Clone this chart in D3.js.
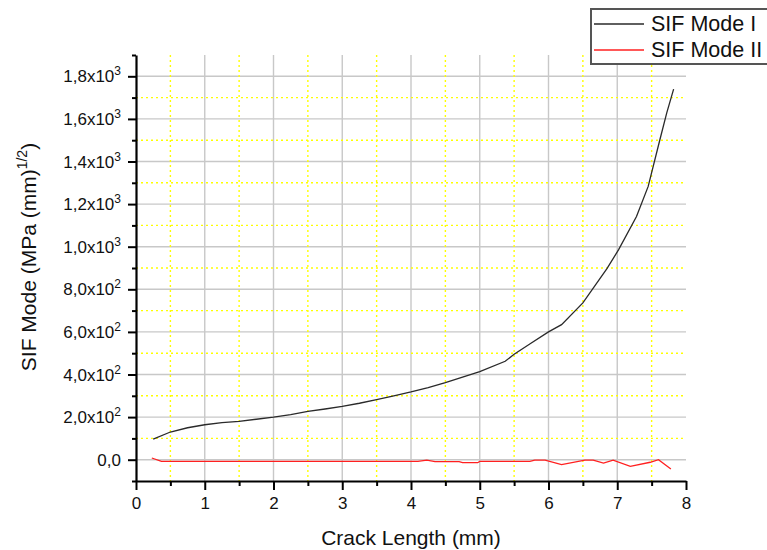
<!DOCTYPE html>
<html>
<head>
<meta charset="utf-8">
<script src="https://cdn.jsdelivr.net/npm/d3@7"></script>
<style>
  body { margin: 0; background: #fff; }
  svg { display: block; font-family: "Liberation Sans", Arial, sans-serif; }
</style>
</head>
<body>
<svg id="chart" width="767" height="550"></svg>
<script>
// crack length (mm) vs SIF
const modeIx = [0.25, 0.5, 0.75, 1.0, 1.25, 1.5, 1.75, 2.0, 2.25, 2.5, 2.75, 3.0, 3.25, 3.5,
  3.75, 4.0, 4.25, 4.5, 4.75, 5.0, 5.37, 5.5, 5.75, 6.0, 6.19, 6.5, 6.85, 7.02, 7.28,
  7.45, 7.62, 7.72, 7.82];
const modeIy = [97, 130, 150, 164, 174, 180, 190, 200, 212, 227, 238, 250, 265, 282,
  300, 318, 338, 362, 388, 414, 462, 495, 548, 600, 634, 736, 897, 986, 1142,
  1283, 1502, 1628, 1740];

const modeIIx = [0.23, 0.37, 4.1, 4.23, 4.35, 4.7, 4.75, 4.97, 5.0, 5.73, 5.8, 5.95, 6.19,
  6.53, 6.65, 6.8, 6.94, 7.19, 7.48, 7.6, 7.78];
const modeIIy = [8, -8, -8, -2, -9, -9, -14, -14, -8, -8, -2, -2, -23,
  -2, -2, -16, -2, -31, -12, 0, -44];

const xTicks = [0, 1, 2, 3, 4, 5, 6, 7, 8];
const xMinor = [0.5, 1.5, 2.5, 3.5, 4.5, 5.5, 6.5, 7.5];
const yTicks = [0, 200, 400, 600, 800, 1000, 1200, 1400, 1600, 1800];
const yTickBase = ["0,0", "2,0x10", "4,0x10", "6,0x10", "8,0x10", "1,0x10", "1,2x10", "1,4x10", "1,6x10", "1,8x10"];
const yTickExp = ["", "2", "2", "2", "2", "3", "3", "3", "3", "3"];
const yMinor = [-100, 100, 300, 500, 700, 900, 1100, 1300, 1500, 1700, 1900];

const legendNames = ["SIF Mode I", "SIF Mode II"];
const legendColors = ["#2a2a2a", "#ff2020"];

/* Set up */
const svg = d3.select("#chart");
const plotLeft = 136, plotRight = 686, plotTop = 55, plotBottom = 481;

const x = d3.scaleLinear().domain([0, 8]).range([plotLeft, plotRight]);
const y = d3.scaleLinear().domain([-100, 1900]).range([plotBottom, plotTop]);

// grid: gray major, yellow dotted minor
const grid = svg.append("g");
grid.selectAll(".gx").data(xTicks.slice(1, -1)).join("line")
  .attr("x1", d => x(d)).attr("x2", d => x(d)).attr("y1", plotTop).attr("y2", plotBottom)
  .attr("stroke", "#c8c8c8").attr("stroke-width", 1.4);
grid.selectAll(".gy").data(yTicks).join("line")
  .attr("x1", plotLeft).attr("x2", plotRight).attr("y1", d => y(d)).attr("y2", d => y(d))
  .attr("stroke", "#c8c8c8").attr("stroke-width", 1.4);
grid.selectAll(".mx").data(xMinor).join("line")
  .attr("x1", d => x(d)).attr("x2", d => x(d)).attr("y1", plotTop).attr("y2", plotBottom)
  .attr("stroke", "#ffff00").attr("stroke-width", 1.4).attr("stroke-dasharray", "2,3");
grid.selectAll(".my").data(yMinor.slice(1, -1)).join("line")
  .attr("x1", plotLeft).attr("x2", plotRight).attr("y1", d => y(d)).attr("y2", d => y(d))
  .attr("stroke", "#ffff00").attr("stroke-width", 1.4).attr("stroke-dasharray", "2,3");

// lines
const line = d3.line().x(d => x(d[0])).y(d => y(d[1]));
svg.append("path").datum(d3.zip(modeIx, modeIy))
  .attr("d", line).attr("fill", "none").attr("stroke", legendColors[0]).attr("stroke-width", 1.3);
svg.append("path").datum(d3.zip(modeIIx, modeIIy))
  .attr("d", line).attr("fill", "none").attr("stroke", legendColors[1]).attr("stroke-width", 1.3);

// x axis
const xAxis = svg.append("g").attr("transform", `translate(0,${plotBottom})`);
xAxis.call(d3.axisBottom(x).tickValues(xTicks).tickSize(9).tickSizeOuter(0).tickFormat(d3.format("d")));
xAxis.append("g").call(d3.axisBottom(x).tickValues(xMinor).tickSize(5).tickSizeOuter(0).tickFormat(""))
  .select(".domain").remove();
xAxis.selectAll("line").attr("stroke", "#000").attr("stroke-width", 2);
xAxis.select(".domain").attr("stroke", "#000").attr("stroke-width", 2.2);
xAxis.selectAll("text").attr("font-size", 17).attr("fill", "#111").attr("dy", null).attr("y", 28);

// y axis
const yAxis = svg.append("g").attr("transform", `translate(${plotLeft},0)`);
yAxis.call(d3.axisLeft(y).tickValues(yTicks).tickSize(8).tickSizeOuter(0).tickFormat(""));
yAxis.append("g").call(d3.axisLeft(y).tickValues(yMinor).tickSize(4).tickSizeOuter(0).tickFormat(""))
  .select(".domain").remove();
yAxis.selectAll("line").attr("stroke", "#000").attr("stroke-width", 2);
yAxis.select(".domain").attr("stroke", "#000").attr("stroke-width", 2.2);

const yLab = svg.append("g").selectAll("text").data(yTicks).join("text")
  .attr("x", 121).attr("y", d => y(d) + 6)
  .attr("text-anchor", "end").attr("font-size", 17).attr("fill", "#111");
yLab.append("tspan").text((d, i) => yTickBase[i]);
yLab.append("tspan").attr("dy", -7).attr("font-size", 12).text((d, i) => yTickExp[i]);

// axis titles
svg.append("text").attr("x", (plotLeft + plotRight) / 2).attr("y", 545)
  .attr("text-anchor", "middle").attr("font-size", 21).attr("fill", "#111")
  .text("Crack Length (mm)");

const yt = svg.append("text")
  .attr("transform", "translate(36,257) rotate(-90)")
  .attr("text-anchor", "middle").attr("font-size", 21).attr("fill", "#111");
yt.append("tspan").text("SIF Mode (MPa (mm)");
yt.append("tspan").attr("dy", -9).attr("font-size", 14).text("1/2");
yt.append("tspan").attr("dy", 9).text(")");

// legend
const legend = svg.append("g");
legend.append("rect").attr("x", 591).attr("y", 9).attr("width", 200).attr("height", 55)
  .attr("fill", "#fff").attr("stroke", "#555").attr("stroke-width", 2);
const items = legend.selectAll("g").data(legendNames).join("g")
  .attr("transform", (d, i) => `translate(0,${24 + i * 26})`);
items.append("line").attr("x1", 594).attr("x2", 644)
  .attr("stroke", (d, i) => legendColors[i]).attr("stroke-width", 1.3);
items.append("text").attr("x", 651).attr("y", 7).attr("font-size", 21.5).attr("fill", "#111")
  .text(d => d);
</script>
</body>
</html>
